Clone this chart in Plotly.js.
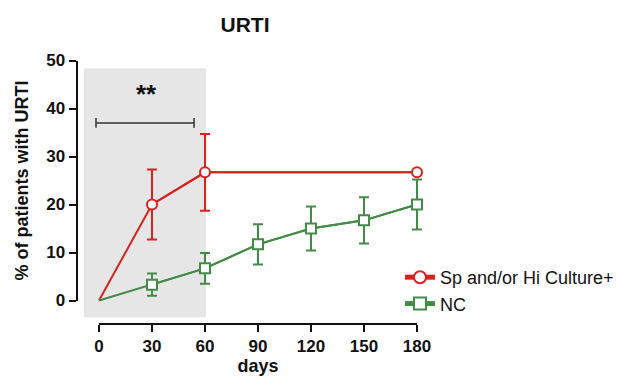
<!DOCTYPE html>
<html>
<head>
<meta charset="utf-8">
<script src="https://cdn.plot.ly/plotly-3.0.1.min.js"></script>
<style>html,body{margin:0;padding:0;background:#fff;}#chart{width:622px;height:376px;}</style>
</head>
<body>
<div id="chart"></div>
<script>
// ---- data ----
const seriesNames = ["Sp and/or Hi Culture+", "NC"];
const daysSp = [0, 30, 60, 180];
const valuesSp = [0, 20, 26.7, 26.7];
const errorsSp = [0, 7.3, 8.0, 0];
const daysNC = [0, 30, 60, 90, 120, 150, 180];
const valuesNC = [0, 3.3, 6.7, 11.7, 15, 16.7, 20];
const errorsNC = [0, 2.3, 3.2, 4.2, 4.6, 4.8, 5.2];
const xTicks = [0, 30, 60, 90, 120, 150, 180];
const yTicks = [0, 10, 20, 30, 40, 50];
const shadedDays = [-8.5, 60.5];
const sigBracket = {days: [-1.7, 53.8], level: 37, label: "**", labelDay: 27, labelLevel: 43.0};

// ---- geometry helpers (pixel layout of the 622x376 canvas) ----
const W = 622, H = 376;
const fx = px => px / W;
const fy = py => 1 - py / H;
const x0px = 99, x180px = 417, pxPerDay = (x180px - x0px) / 180;
const y0px = 300.5, pxPerUnit = 4.8;
const mainX = [80, 440], mainY = [60, 330];

const red = "#d9211f", green = "#428c47";
const font = "Arial, 'Liberation Sans', Helvetica, sans-serif";

const markerStyle = (sym, col) => ({symbol: sym, size: 10, color: "#ffffff", line: {color: col, width: 2}});

const traces = [
  {x: daysSp, y: valuesSp, mode: "lines", line: {color: red, width: 2}, showlegend: false, legendgroup: "a", hoverinfo: "skip"},
  {x: daysSp.slice(1), y: valuesSp.slice(1), name: seriesNames[0], legendgroup: "a", mode: "lines+markers",
   line: {color: red, width: 2}, marker: markerStyle("circle", red),
   error_y: {type: "data", array: errorsSp.slice(1), visible: true, color: red, thickness: 2, width: 5}},
  {x: daysNC, y: valuesNC, mode: "lines", line: {color: green, width: 2}, showlegend: false, legendgroup: "b", hoverinfo: "skip"},
  {x: daysNC.slice(1), y: valuesNC.slice(1), name: seriesNames[1], legendgroup: "b", mode: "lines+markers",
   line: {color: green, width: 2}, marker: markerStyle("square", green),
   error_y: {type: "data", array: errorsNC.slice(1), visible: true, color: green, thickness: 2, width: 5}},
  {x: [], y: [], xaxis: "x2", yaxis: "y2", showlegend: false, hoverinfo: "skip"}
];

const tickFont = {family: font, size: 17, color: "#111", weight: "bold"};
const titleFont = {family: font, size: 18, color: "#111", weight: "bold"};

const layout = {
  width: W, height: H,
  margin: {l: 0, r: 0, t: 0, b: 0},
  paper_bgcolor: "#ffffff",
  plot_bgcolor: "rgba(0,0,0,0)",
  title: {text: "URTI", x: fx(245), xanchor: "center", y: fy(25), yanchor: "middle",
          font: {family: font, size: 21, color: "#111", weight: "bold"}},
  showlegend: true,
  legend: {x: fx(400), xanchor: "left", y: fy(259), yanchor: "top", bgcolor: "rgba(0,0,0,0)",
           font: {family: font, size: 18, color: "#111"}, itemsizing: "constant", tracegroupgap: 0, itemwidth: 30},
  xaxis: {domain: [fx(mainX[0]), fx(mainX[1])], range: [(mainX[0] - x0px) / pxPerDay, (mainX[1] - x0px) / pxPerDay],
          visible: false, fixedrange: true},
  yaxis: {domain: [fy(mainY[1]), fy(mainY[0])], range: [(y0px - mainY[1]) / pxPerUnit, (y0px - mainY[0]) / pxPerUnit],
          visible: false, fixedrange: true},
  xaxis2: {domain: [fx(x0px), fx(x180px)], range: [0, 180], anchor: "free", position: fy(324),
           showline: true, linecolor: "#111", linewidth: 2, ticks: "outside", ticklen: 7, tickwidth: 2, tickcolor: "#111",
           tickvals: xTicks, ticktext: xTicks.map(String), tickfont: tickFont, showgrid: false, zeroline: false,
           title: {text: "days", font: titleFont, standoff: 5}},
  yaxis2: {domain: [fy(y0px), fy(y0px - 50 * pxPerUnit)], range: [0, 50], anchor: "free", position: fx(76.5),
           showline: true, linecolor: "#111", linewidth: 2, ticks: "outside", ticklen: 7, tickwidth: 2, tickcolor: "#111",
           tickvals: yTicks, ticktext: yTicks.map(String), tickfont: tickFont, showgrid: false, zeroline: false,
           title: {text: "% of patients with URTI", font: titleFont, standoff: 12}},
  shapes: [
    {type: "rect", xref: "x", yref: "y", x0: shadedDays[0], x1: shadedDays[1], y0: -3.5, y1: 48.4,
     fillcolor: "#e6e6e6", line: {width: 0}, layer: "below"},
    {type: "line", xref: "x", yref: "y", x0: sigBracket.days[0], x1: sigBracket.days[1], y0: sigBracket.level, y1: sigBracket.level,
     line: {color: "#333", width: 1.5}},
    {type: "line", xref: "x", yref: "y", x0: sigBracket.days[0], x1: sigBracket.days[0], y0: sigBracket.level - 1, y1: sigBracket.level + 1,
     line: {color: "#333", width: 1.5}},
    {type: "line", xref: "x", yref: "y", x0: sigBracket.days[1], x1: sigBracket.days[1], y0: sigBracket.level - 1, y1: sigBracket.level + 1,
     line: {color: "#333", width: 1.5}}
  ],
  annotations: [
    {xref: "x", yref: "y", x: sigBracket.labelDay, y: sigBracket.labelLevel, text: sigBracket.label, showarrow: false,
     font: {family: font, size: 26, color: "#111", weight: "bold"}}
  ]
};

Plotly.newPlot("chart", traces, layout, {displayModeBar: false, staticPlot: true});
</script>
</body>
</html>
